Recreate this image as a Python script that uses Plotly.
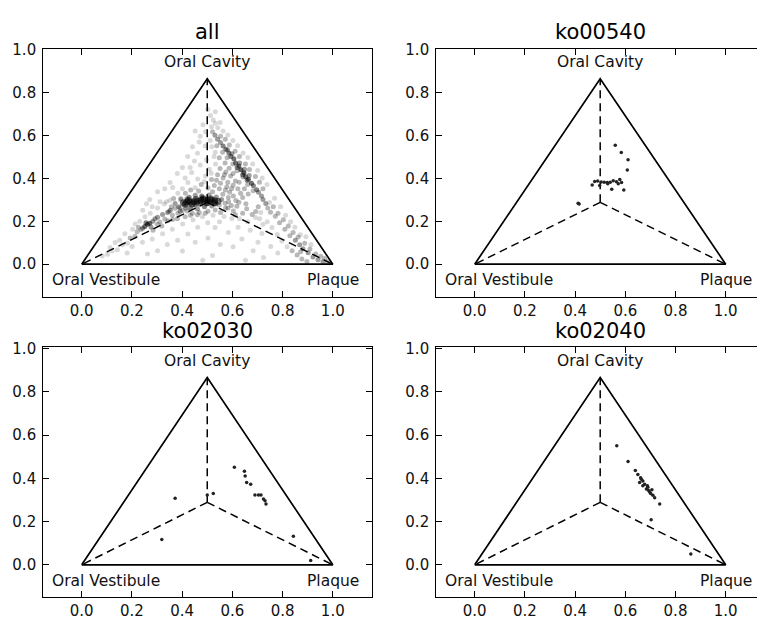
import math
import plotly.graph_objects as go

# ---------------- data ----------------
panel_titles = ["all", "ko00540", "ko02030", "ko02040"]
vertex_labels = ["Oral Vestibule", "Plaque", "Oral Cavity"]
vertex_x = [0.0, 1.0, 0.5]
vertex_y = [0.0, 0.0, math.sqrt(3) / 2]
tick_vals = [0.0, 0.2, 0.4, 0.6, 0.8, 1.0]
tick_text = ["0.0", "0.2", "0.4", "0.6", "0.8", "1.0"]

# "all" panel, dark core of the cloud
blob_x = [0.405, 0.418, 0.432, 0.446, 0.460, 0.474, 0.488, 0.502, 0.516, 0.530, 0.543,
          0.412, 0.440, 0.470, 0.500, 0.528, 0.425, 0.455, 0.485, 0.515]
blob_y = [0.287, 0.289, 0.290, 0.292, 0.294, 0.296, 0.298, 0.299, 0.298, 0.296, 0.294,
          0.280, 0.281, 0.284, 0.287, 0.287, 0.297, 0.302, 0.305, 0.304]

# "all" panel, rest of the cloud (x, y, multiplicity)
all_x = [
    # halo around the core
    0.372, 0.386, 0.395, 0.428, 0.452, 0.478, 0.507, 0.536, 0.557, 0.571,
    0.433, 0.461, 0.489, 0.518, 0.548, 0.468, 0.503, 0.441, 0.532, 0.357,
    0.366, 0.413, 0.466, 0.521, 0.562, 0.584, 0.347, 0.392, 0.414, 0.585,
    0.596, 0.573, 0.337, 0.419, 0.534, 0.498, 0.451, 0.478,
    # above the core
    0.452, 0.476, 0.503, 0.528, 0.548, 0.572, 0.589, 0.604, 0.614, 0.462,
    0.493, 0.517, 0.541, 0.563, 0.582, 0.603, 0.622, 0.508, 0.533, 0.551,
    0.574, 0.593, 0.612, 0.633, 0.438, 0.472, 0.497, 0.423, 0.401, 0.434,
    0.527, 0.553, 0.578, 0.597, 0.641, 0.626, 0.537, 0.568, 0.488, 0.516,
    # ridge core
    0.521, 0.531, 0.541, 0.553, 0.563, 0.574, 0.586, 0.594, 0.606, 0.613,
    0.626, 0.634, 0.646, 0.653, 0.664, 0.676, 0.684, 0.697, 0.704, 0.716,
    0.619, 0.641, 0.659, 0.629, 0.648, 0.667, 0.581, 0.598,
    # ridge spread
    0.553, 0.572, 0.588, 0.611, 0.628, 0.652, 0.668, 0.692, 0.708, 0.722,
    0.538, 0.561, 0.579, 0.602, 0.619, 0.642, 0.661, 0.683,
    0.512, 0.518, 0.532, 0.548, 0.571, 0.587, 0.603, 0.627, 0.648, 0.663,
    0.542, 0.551, 0.524, 0.513, 0.532,
    0.563, 0.582, 0.602, 0.621, 0.643, 0.662, 0.681, 0.701, 0.719, 0.738,
    # band towards Plaque
    0.722, 0.733, 0.741, 0.752, 0.763, 0.771, 0.782, 0.788, 0.803, 0.809,
    0.823, 0.829, 0.842, 0.851, 0.862, 0.868, 0.881, 0.888, 0.902, 0.909,
    0.921, 0.932, 0.941, 0.952, 0.961, 0.968, 0.979, 0.858, 0.877, 0.897,
    0.838, 0.818, 0.797, 0.779, 0.758, 0.739, 0.703, 0.713, 0.692, 0.722,
    0.748, 0.768, 0.792, 0.812, 0.832, 0.849, 0.871, 0.893, 0.913, 0.872,
    # lower right interior
    0.583, 0.604, 0.618, 0.641, 0.657, 0.679, 0.628, 0.662, 0.598, 0.567,
    0.549, 0.623, 0.671, 0.718, 0.702, 0.638, 0.584, 0.531, 0.753, 0.781,
    0.683, 0.603, 0.724, 0.652, 0.693, 0.709, 0.654, 0.612,
    # lower left
    0.251, 0.262, 0.271, 0.256, 0.243, 0.276, 0.283, 0.236, 0.292, 0.302,
    0.311, 0.322, 0.331, 0.342, 0.353, 0.361, 0.372, 0.383, 0.391, 0.402,
    0.421, 0.301, 0.284, 0.319, 0.343, 0.362, 0.221, 0.212, 0.193, 0.182,
    0.163, 0.151, 0.142, 0.121, 0.103, 0.082, 0.203, 0.231, 0.252, 0.273,
    0.302, 0.329, 0.351, 0.312, 0.281, 0.243, 0.213, 0.172, 0.133, 0.113,
    0.201, 0.242, 0.281, 0.322, 0.361, 0.402, 0.443, 0.481, 0.502, 0.462,
    0.423, 0.382, 0.341, 0.302, 0.262, 0.452, 0.503, 0.552, 0.401, 0.521,
    0.482, 0.181, 0.381, 0.412, 0.433, 0.461, 0.492, 0.523, 0.553, 0.226,
    # sparse upper area
    0.302, 0.271, 0.352, 0.381, 0.401, 0.422, 0.441, 0.452, 0.383, 0.362,
    0.472, 0.483, 0.502, 0.492, 0.461, 0.432, 0.412, 0.468, 0.493, 0.331,
    0.532, 0.517, 0.449, 0.393, 0.258,
]
all_y = [
    0.283, 0.268, 0.305, 0.313, 0.322, 0.318, 0.323, 0.314, 0.302, 0.284,
    0.263, 0.258, 0.268, 0.272, 0.276, 0.241, 0.247, 0.238, 0.253, 0.268,
    0.307, 0.331, 0.342, 0.338, 0.327, 0.311, 0.246, 0.247, 0.262, 0.292,
    0.274, 0.262, 0.292, 0.305, 0.281, 0.282, 0.276, 0.309,
    0.357, 0.372, 0.356, 0.368, 0.352, 0.347, 0.336, 0.318, 0.297, 0.398,
    0.412, 0.396, 0.418, 0.402, 0.383, 0.369, 0.352, 0.443, 0.468, 0.447,
    0.431, 0.412, 0.388, 0.331, 0.428, 0.463, 0.488, 0.381, 0.352, 0.347,
    0.503, 0.378, 0.362, 0.352, 0.312, 0.289, 0.392, 0.418, 0.386, 0.425,
    0.618, 0.602, 0.583, 0.568, 0.552, 0.537, 0.519, 0.503, 0.492, 0.473,
    0.458, 0.441, 0.427, 0.408, 0.397, 0.378, 0.366, 0.348, 0.336, 0.318,
    0.451, 0.418, 0.392, 0.472, 0.443, 0.414, 0.533, 0.516,
    0.598, 0.583, 0.557, 0.527, 0.503, 0.468, 0.442, 0.409, 0.383, 0.352,
    0.553, 0.523, 0.497, 0.468, 0.436, 0.407, 0.372, 0.343,
    0.577, 0.548, 0.523, 0.497, 0.473, 0.448, 0.424, 0.383, 0.352, 0.328,
    0.637, 0.662, 0.673, 0.694, 0.712,
    0.622, 0.603, 0.578, 0.553, 0.519, 0.498, 0.468, 0.437, 0.403, 0.372,
    0.302, 0.283, 0.262, 0.243, 0.268, 0.224, 0.238, 0.193, 0.207, 0.163,
    0.178, 0.133, 0.148, 0.112, 0.127, 0.091, 0.072, 0.098, 0.053, 0.071,
    0.034, 0.048, 0.021, 0.037, 0.012, 0.027, 0.011, 0.043, 0.024, 0.012,
    0.063, 0.082, 0.108, 0.139, 0.171, 0.198, 0.268, 0.241, 0.218, 0.187,
    0.288, 0.308, 0.268, 0.229, 0.198, 0.172, 0.138, 0.128, 0.092, 0.058,
    0.262, 0.248, 0.271, 0.238, 0.259, 0.232, 0.212, 0.198, 0.213, 0.223,
    0.198, 0.172, 0.158, 0.143, 0.102, 0.118, 0.148, 0.171, 0.083, 0.052,
    0.063, 0.081, 0.031, 0.018, 0.246, 0.212, 0.282, 0.231,
    0.176, 0.186, 0.191, 0.193, 0.168, 0.174, 0.201, 0.162, 0.212, 0.219,
    0.197, 0.232, 0.211, 0.241, 0.252, 0.228, 0.261, 0.238, 0.262, 0.251,
    0.248, 0.187, 0.158, 0.178, 0.203, 0.209, 0.151, 0.131, 0.122, 0.098,
    0.091, 0.112, 0.068, 0.062, 0.047, 0.038, 0.163, 0.201, 0.222, 0.238,
    0.262, 0.281, 0.298, 0.291, 0.268, 0.252, 0.188, 0.142, 0.101, 0.078,
    0.083, 0.102, 0.118, 0.142, 0.163, 0.188, 0.208, 0.221, 0.193, 0.172,
    0.141, 0.112, 0.092, 0.063, 0.048, 0.103, 0.122, 0.092, 0.062, 0.041,
    0.018, 0.052, 0.212, 0.221, 0.228, 0.231, 0.238, 0.229, 0.241, 0.172,
    0.338, 0.302, 0.381, 0.423, 0.452, 0.503, 0.548, 0.622, 0.331, 0.358,
    0.598, 0.651, 0.722, 0.552, 0.518, 0.452, 0.402, 0.571, 0.618, 0.352,
    0.658, 0.642, 0.482, 0.298, 0.282,
]
all_n = [
    3, 3, 3, 4, 3, 4, 3, 3, 3, 2,
    4, 3, 4, 3, 2, 2, 2, 2, 2, 2,
    2, 2, 2, 2, 2, 2, 2, 3, 3, 2,
    2, 2, 1, 3, 3, 4, 4, 4,
    1, 2, 2, 2, 2, 2, 2, 2, 2, 1,
    1, 2, 2, 2, 2, 2, 2, 1, 1, 2,
    2, 2, 2, 2, 1, 1, 1, 1, 1, 2,
    1, 2, 2, 2, 2, 2, 2, 2, 1, 1,
    2, 3, 3, 3, 4, 4, 4, 4, 5, 5,
    5, 6, 6, 5, 5, 5, 4, 4, 3, 3,
    4, 4, 4, 3, 3, 3, 3, 3,
    2, 2, 2, 2, 2, 2, 2, 2, 2, 2,
    2, 2, 2, 2, 2, 2, 2, 2,
    1, 1, 1, 2, 2, 2, 2, 2, 2, 2,
    1, 1, 1, 1, 1,
    1, 1, 1, 1, 1, 1, 1, 1, 1, 1,
    3, 3, 2, 2, 2, 2, 2, 2, 2, 2,
    2, 2, 2, 3, 2, 3, 3, 2, 3, 2,
    3, 2, 3, 2, 3, 2, 2, 2, 2, 2,
    2, 1, 1, 1, 1, 1, 2, 1, 1, 1,
    1, 1, 1, 1, 1, 1, 1, 1, 1, 2,
    2, 2, 2, 2, 2, 2, 1, 1, 1, 1,
    1, 1, 1, 1, 1, 1, 1, 1, 1, 1,
    1, 1, 1, 1, 2, 1, 2, 2,
    5, 6, 5, 4, 3, 3, 3, 2, 3, 3,
    2, 3, 2, 3, 3, 2, 2, 2, 2, 2,
    2, 2, 2, 2, 2, 2, 2, 2, 2, 1,
    1, 1, 1, 1, 1, 1, 1, 1, 1, 1,
    1, 1, 1, 1, 1, 1, 1, 1, 1, 1,
    1, 1, 1, 1, 1, 1, 1, 1, 1, 1,
    1, 1, 1, 1, 1, 1, 1, 1, 1, 1,
    1, 1, 2, 2, 2, 2, 2, 1, 2, 2,
    1, 1, 1, 1, 1, 1, 1, 1, 1, 1,
    1, 1, 1, 1, 1, 1, 1, 1, 1, 1,
    1, 1, 1, 1, 1,
]

ko00540_x = [0.560, 0.584, 0.611, 0.608, 0.578, 0.565, 0.552, 0.540, 0.528, 0.516,
             0.504, 0.490, 0.478, 0.468, 0.498, 0.546, 0.572, 0.594, 0.416, 0.412,
             0.585, 0.530]
ko00540_y = [0.555, 0.521, 0.488, 0.440, 0.396, 0.385, 0.390, 0.383, 0.381, 0.383,
             0.384, 0.388, 0.386, 0.370, 0.368, 0.350, 0.376, 0.346, 0.281, 0.284,
             0.382, 0.376]

ko02030_x = [0.608, 0.648, 0.651, 0.657, 0.673, 0.690, 0.704, 0.714, 0.724, 0.734,
             0.730, 0.524, 0.500, 0.372, 0.319, 0.843, 0.912]
ko02030_y = [0.451, 0.433, 0.410, 0.380, 0.372, 0.323, 0.323, 0.323, 0.304, 0.281,
             0.296, 0.330, 0.323, 0.308, 0.117, 0.132, 0.020]

ko02040_x = [0.566, 0.611, 0.640, 0.650, 0.661, 0.657, 0.670, 0.677, 0.688, 0.684,
             0.693, 0.701, 0.710, 0.717, 0.737, 0.703, 0.861, 0.670, 0.690, 0.697,
             0.706, 0.664]
ko02040_y = [0.550, 0.478, 0.436, 0.418, 0.402, 0.380, 0.387, 0.372, 0.365, 0.350,
             0.344, 0.330, 0.321, 0.310, 0.281, 0.208, 0.050, 0.365, 0.358, 0.336,
             0.347, 0.395]

# ---------------- figure ----------------
W, H = 757, 620
FONT = "DejaVu Sans"


def px_x(p):
    return p / W


def px_y(p):
    return 1 - p / H


dom_left = [px_x(43.3), px_x(371.7)]
dom_right = [px_x(436.3), 1.0]
dom_top = [px_y(293), px_y(42)]
dom_bot = [px_y(597.3), px_y(343.5)]

xr_left = [-0.153, 1.155]
xr_right = [-0.153, 1.1247]
yr_top = [-0.152, 1.003]
yr_bot = [-0.147, 1.009]

panels = [
    dict(ax="", xd=dom_left, yd=dom_top, xr=xr_left, yr=yr_top, right=False, top=True),
    dict(ax="2", xd=dom_right, yd=dom_top, xr=xr_right, yr=yr_top, right=True, top=True),
    dict(ax="3", xd=dom_left, yd=dom_bot, xr=xr_left, yr=yr_bot, right=False, top=False),
    dict(ax="4", xd=dom_right, yd=dom_bot, xr=xr_right, yr=yr_bot, right=True, top=False),
]

fig = go.Figure()

cx = sum(vertex_x) / 3
cy = sum(vertex_y) / 3

layout = dict(
    width=W, height=H,
    margin=dict(l=0, r=0, t=0, b=0),
    paper_bgcolor="white", plot_bgcolor="white",
    showlegend=False,
    font=dict(family=FONT, color="black"),
)
annotations = []

axis_common = dict(
    showline=True, linecolor="black", linewidth=1.2,
    ticks="inside", ticklen=6, tickwidth=1, tickcolor="black",
    showgrid=False, zeroline=False,
    tickvals=tick_vals, ticktext=tick_text,
    tickfont=dict(family=FONT, size=15, color="#111111"),
    fixedrange=True,
)

for i, p in enumerate(panels):
    a = p["ax"]
    xname = "x" + a
    yname = "y" + a
    layout["xaxis" + a] = dict(axis_common, domain=p["xd"], range=p["xr"],
                               anchor=yname, mirror="allticks")
    layout["yaxis" + a] = dict(axis_common, domain=p["yd"], range=p["yr"],
                               anchor=xname, ticklabelstandoff=3,
                               mirror=(False if p["right"] else "allticks"))

    # triangle outline
    fig.add_trace(go.Scatter(
        x=vertex_x + [vertex_x[0]], y=vertex_y + [vertex_y[0]],
        mode="lines", line=dict(color="black", width=1.7),
        xaxis=xname, yaxis=yname, hoverinfo="skip"))
    # dashed lines centroid -> vertices
    dx, dy = [], []
    for vx, vy in zip(vertex_x, vertex_y):
        dx += [cx, vx, None]
        dy += [cy, vy, None]
    fig.add_trace(go.Scatter(
        x=dx, y=dy, mode="lines",
        line=dict(color="black", width=1.5, dash="8px,5px"),
        xaxis=xname, yaxis=yname, hoverinfo="skip"))

    lab_font = dict(family=FONT, size=15.5, color="#111111")
    annotations.append(dict(text=vertex_labels[2], x=0.5, y=0.943, xref=xname, yref=yname,
                            showarrow=False, xanchor="center", yanchor="middle", font=lab_font))
    annotations.append(dict(text=vertex_labels[0], x=0.097, y=-0.074, xref=xname, yref=yname,
                            showarrow=False, xanchor="center", yanchor="middle", font=lab_font))
    annotations.append(dict(text=vertex_labels[1], x=1.0, y=-0.074, xref=xname, yref=yname,
                            showarrow=False, xanchor="center", yanchor="middle", font=lab_font))

    # panel title
    tx = (436.3 + 765) / 2 / W if p["right"] else (43.3 + 371.7) / 2 / W
    ty = px_y(24) if p["top"] else px_y(328)
    annotations.append(dict(text=panel_titles[i], x=tx, y=ty, xref="paper", yref="paper",
                            showarrow=False, xanchor="center", yanchor="middle",
                            font=dict(family=FONT, size=21, color="black")))

# "all" panel cloud
alpha = 0.15
all_op = [1 - (1 - alpha) ** n for n in all_n]
fig.add_trace(go.Scatter(
    x=all_x, y=all_y, mode="markers",
    marker=dict(color="black", size=5, opacity=all_op, line=dict(width=0)),
    xaxis="x", yaxis="y", hoverinfo="skip"))
fig.add_trace(go.Scatter(
    x=blob_x, y=blob_y, mode="markers",
    marker=dict(color="black", size=7, opacity=0.55, line=dict(width=0)),
    xaxis="x", yaxis="y", hoverinfo="skip"))

for xs, ys, a in [(ko00540_x, ko00540_y, "2"), (ko02030_x, ko02030_y, "3"),
                  (ko02040_x, ko02040_y, "4")]:
    fig.add_trace(go.Scatter(
        x=xs, y=ys, mode="markers",
        marker=dict(color="#222222", size=3.5, line=dict(width=0)),
        xaxis="x" + a, yaxis="y" + a, hoverinfo="skip"))

layout["annotations"] = annotations
fig.update_layout(**layout)

fig.write_html("out.html")
